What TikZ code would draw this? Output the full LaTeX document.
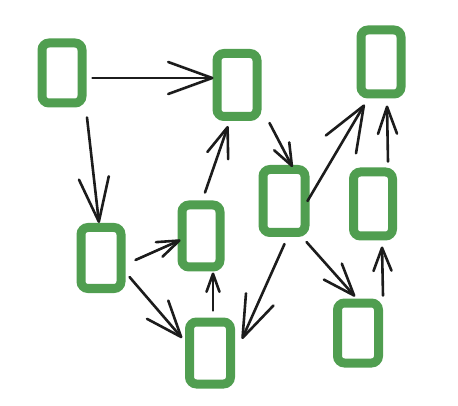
\documentclass[tikz,border=0pt]{standalone}
\usetikzlibrary{arrows.meta}
\definecolor{boxgreen}{RGB}{80,158,80}
\definecolor{ink}{RGB}{28,28,28}
\tikzset{
  box/.style={draw=boxgreen, line width=9pt, rounded corners=7pt, fill=white, inner sep=0pt},
  conn/.style={draw=ink, line width=2.6pt, line cap=round},
  tip/.style 2 args={-{Straight Barb[length=#1pt,width=#2pt,line width=2.6pt,round]}}
}
\begin{document}
\begin{tikzpicture}[x=1pt,y=-1pt]
\useasboundingbox (0,0) rectangle (458,406);
\node[box, minimum width=40pt, minimum height=60pt] (A) at (62,73) {};
\node[box, minimum width=40pt, minimum height=63pt] (B) at (237,85) {};
\node[box, minimum width=40pt, minimum height=64pt] (C) at (381,62) {};
\node[box, minimum width=40pt, minimum height=61pt] (D) at (101,258) {};
\node[box, minimum width=38pt, minimum height=62pt] (E) at (201,236) {};
\node[box, minimum width=41pt, minimum height=62pt] (F) at (210,353) {};
\node[box, minimum width=42pt, minimum height=63pt] (G) at (284,201) {};
\node[box, minimum width=39pt, minimum height=64pt] (H) at (373,204) {};
\node[box, minimum width=41pt, minimum height=60pt] (I) at (358,333) {};

\draw[conn, tip={44}{32}] ([shift={(6,5)}]A.east) -- ([shift={(1,-7)}]B.west);
\draw[conn, tip={44}{30}] ([shift={(25,10)}]A.south) -- ([shift={(-2,0)}]D.north);
\draw[conn, tip={22}{16}] ([shift={(10,2)}]D.east) -- ([shift={(3,4)}]E.west);
\draw[conn, tip={36}{28}] ([shift={(4,19)}]D.east) -- ([shift={(-3,-15)}]F.west);
\draw[conn, tip={18}{13}] ([shift={(3,-7)}]F.north) -- ([shift={(12,1)}]E.south);
\draw[conn, tip={30}{22}] ([shift={(4,-8)}]E.north) -- ([shift={(-9,5)}]B.south);
\draw[conn, tip={22}{17}] ([shift={(8,38)}]B.east) -- ([shift={(8.5,2)}]G.north);
\draw[conn, tip={45}{35}] ([shift={(-2,0)}]G.east) -- ([shift={(-16.5,6)}]C.south);
\draw[conn, tip={27}{19}] ([shift={(15,-6)}]H.north) -- ([shift={(6,7)}]C.south);
\draw[conn, tip={42}{30}] ([shift={(0.5,7)}]G.south) -- ([shift={(7,-14)}]F.east);
\draw[conn, tip={32}{24}] ([shift={(22.5,5)}]G.south) -- ([shift={(-3,-2)}]I.north);
\draw[conn, tip={23}{18}] ([shift={(25,-3)}]I.north) -- ([shift={(9,6)}]H.south);
\end{tikzpicture}
\end{document}
